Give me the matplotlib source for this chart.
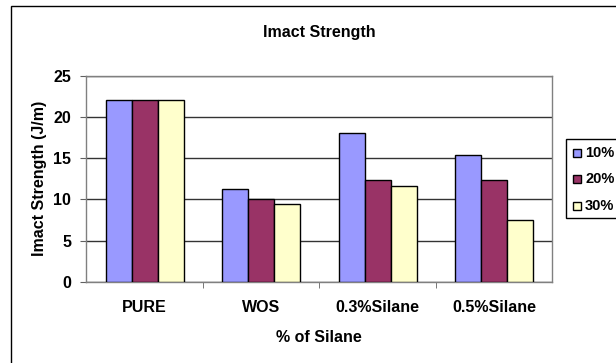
import matplotlib.pyplot as plt
import matplotlib.ticker as ticker
from matplotlib.patches import Rectangle
import numpy as np

categories = ['PURE', 'WOS', '0.3%Silane', '0.5%Silane']
series = ['10%', '20%', '30%']
strength_10 = [22, 11.3, 18, 15.4]
strength_20 = [22, 10, 12.4, 12.4]
strength_30 = [22, 9.5, 11.6, 7.5]
colors = ['#9999FF', '#993366', '#FFFFCC']

plt.rcParams['font.family'] = ['Liberation Sans', 'DejaVu Sans']
plt.rcParams['font.weight'] = 'bold'
FS = 11.5

W, H = 616, 363
fig = plt.figure(figsize=(W / 100, H / 100), dpi=100)

# outer chart frame (runs off the right and bottom edges)
fig.patches.append(Rectangle((11 / W, -0.1), 1.2, 1 - 6 / H + 0.1,
                             transform=fig.transFigure, fill=False,
                             edgecolor='black', linewidth=1))

ax = fig.add_axes([86.3 / W, 1 - 282 / H, 466 / W, 206.3 / H])

x = np.arange(len(categories))
width = 0.223
for i, vals in enumerate([strength_10, strength_20, strength_30]):
    ax.bar(x + (i - 1) * width, vals, width, color=colors[i],
           edgecolor='black', linewidth=1, zorder=3)

ax.set_xlim(-0.5, len(categories) - 0.5)
ax.set_ylim(0, 25)
ax.set_yticks(range(0, 26, 5))
ax.yaxis.grid(True, color='#333333', linewidth=1)
ax.set_axisbelow(True)

for s in ax.spines.values():
    s.set_color('#808080')
    s.set_linewidth(1)

ax.set_xticks(x)
ax.set_xticklabels(categories, fontsize=FS, fontweight='bold')
ax.xaxis.set_minor_locator(ticker.FixedLocator(x[:-1] + 0.5))
ax.tick_params(axis='x', which='major', length=0, pad=13)
ax.tick_params(axis='x', which='minor', length=4, color='#606060', direction='out')
ax.tick_params(axis='y', length=4, color='#606060', pad=7, labelsize=FS)
for lbl in ax.get_yticklabels():
    lbl.set_fontweight('bold')

ax.set_xlabel('% of Silane', fontsize=FS, fontweight='bold', labelpad=10.5)
ax.set_ylabel('Imact Strength (J/m)', fontsize=FS, fontweight='bold', labelpad=4)
fig.text(319 / W, 1 - 33 / H, 'Imact Strength', ha='center', va='center',
         fontsize=FS, fontweight='bold')

# legend box, running off the right edge
fig.patches.append(Rectangle((566 / W, 1 - 218 / H), 0.2, 79 / H,
                             transform=fig.transFigure, fill=True,
                             facecolor='white', edgecolor='black', linewidth=1))
for i, name in enumerate(series):
    yc = 1 - (152.7 + i * 26.6) / H
    fig.patches.append(Rectangle((573 / W, yc - 4 / H), 8 / W, 8 / H,
                                 transform=fig.transFigure, facecolor=colors[i],
                                 edgecolor='black', linewidth=1))
    fig.text(585 / W, yc, name, ha='left', va='center', fontsize=10.5,
             fontweight='bold')

fig.savefig('out.png', dpi=100)
